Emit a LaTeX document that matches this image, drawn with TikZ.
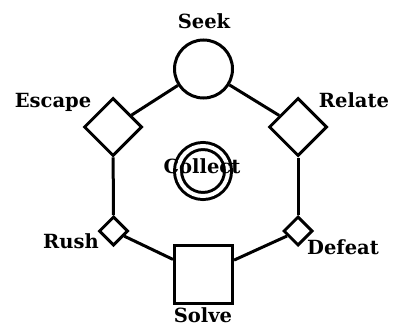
\documentclass[tikz,border=0pt]{standalone}
\usepackage{fontspec}
\setmainfont{DejaVu Serif}
\usetikzlibrary{shapes.geometric}
\tikzset{
  shp/.style={draw=black, line width=3pt, inner sep=0pt, fill=white},
  bigdia/.style={shp, diamond, minimum width=58pt, minimum height=58pt},
  smalldia/.style={shp, diamond, minimum width=29pt, minimum height=29pt},
  circ/.style={shp, circle, minimum size=58pt},
  sq/.style={shp, rectangle, minimum size=58pt},
  dcirc/.style={circle, draw=black, line width=3pt, double=white, double distance=4pt, minimum size=50pt, inner sep=0pt},
  lbl/.style={font=\bfseries\fontsize{19.5}{22}\selectfont, anchor=base, inner sep=0pt},
  edge/.style={line width=3pt}
}
\begin{document}
\begin{tikzpicture}[x=1pt,y=-1pt]
\useasboundingbox (0,0) rectangle (393,326);
\node[circ] (seek) at (203.5,69) {};
\node[bigdia] (escape) at (113,127) {};
\node[bigdia] (relate) at (298,127) {};
\node[smalldia] (rush) at (113.5,231) {};
\node[smalldia] (defeat) at (298,231) {};
\node[sq] (solve) at (203.5,274) {};
\node[dcirc] (collect) at (203,171) {};
\draw[edge] (seek) -- (escape);
\draw[edge] (seek) -- (relate);
\draw[edge] (escape) -- (rush);
\draw[edge] (relate) -- (defeat);
\draw[edge] (rush) -- (solve);
\draw[edge] (defeat) -- (solve);
\node[lbl] (tseek) at (204,29) {Seek};
\node[lbl] (tescape) at (53,107) {Escape};
\node[lbl] (trelate) at (354,107) {Relate};
\node[lbl] (trush) at (71,248) {Rush};
\node[lbl] (tdefeat) at (343,254) {Defeat};
\node[lbl] (tsolve) at (203,322) {Solve};
\node[lbl] (tcollect) at (202,173) {Collect};
\end{tikzpicture}
\end{document}
